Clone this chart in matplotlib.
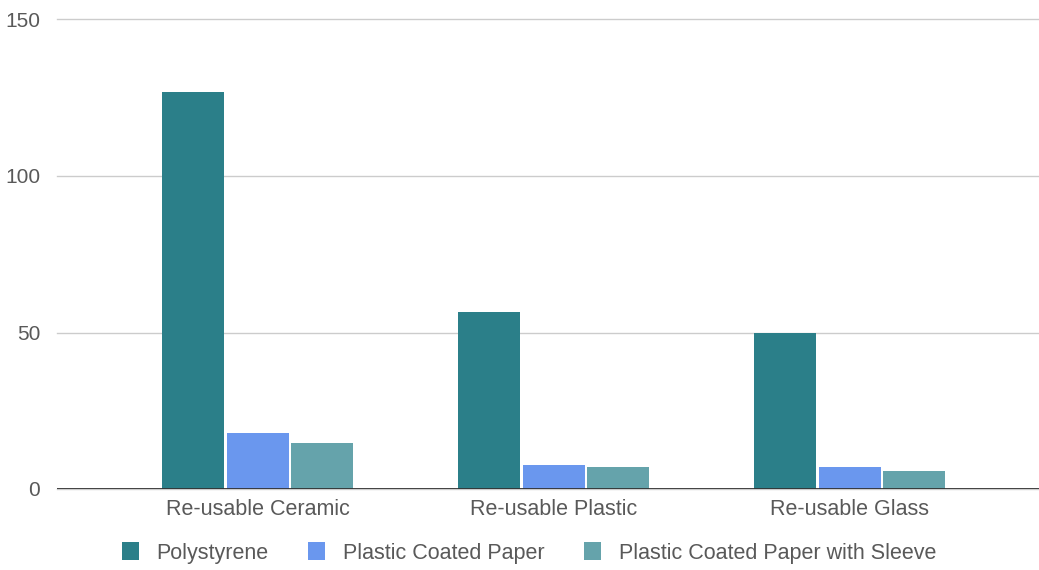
import numpy as np
import matplotlib
matplotlib.use("Agg")
import matplotlib.pyplot as plt
from matplotlib.patches import Patch

plt.rcParams['font.family'] = ['Liberation Sans', 'DejaVu Sans']

# Data
categories = ["Re-usable Ceramic", "Re-usable Plastic", "Re-usable Glass"]
series_names = ["Polystyrene", "Plastic Coated Paper", "Plastic Coated Paper with Sleeve"]
polystyrene = [126.7, 56.6, 49.7]
coated_paper = [17.9, 7.7, 7.0]
paper_sleeve = [14.7, 7.0, 5.8]
y_ticks = [0, 50, 100, 150]

colors = ["#2b7f89", "#6a97ee", "#65a3ab"]
text_color = "#595959"

fig = plt.figure(figsize=(10.39, 5.70), dpi=100)
ax = fig.add_axes([57 / 1039, 1 - 489 / 570, 1 - 57 / 1039, (489 - 19.5) / 570])

x = np.arange(len(categories))
width = 0.21
step = 0.218
for i, (vals, name, col) in enumerate(zip([polystyrene, coated_paper, paper_sleeve], series_names, colors)):
    ax.bar(x + (i - 1) * step, vals, width, color=col, label=name, zorder=3)

ax.set_xlim(-0.678, 2.64)
ax.set_ylim(0, 150)
ax.set_yticks(y_ticks)
ax.set_xticks(x)
ax.set_xticklabels(categories)
ax.grid(axis='y', color='#cccccc', linewidth=1, zorder=0)
for gl in ax.get_ygridlines():
    gl.set_clip_on(False)
ax.axhline(0, color='#333333', linewidth=1.3, zorder=4)
for s in ax.spines.values():
    s.set_visible(False)
ax.tick_params(axis='y', length=0, pad=12, labelsize=15, labelcolor=text_color)
ax.tick_params(axis='x', length=0, pad=7, labelsize=15.5, labelcolor=text_color)

handles = [Patch(facecolor=c, edgecolor='none') for c in colors]
fig.legend(handles, series_names, loc='center', bbox_to_anchor=(0.509, 1 - 553 / 570),
           ncol=3, frameon=False, fontsize=15.5, labelcolor=text_color,
           handlelength=0.8, handleheight=0.85, columnspacing=1.85, handletextpad=0.8)

fig.savefig("out.png", dpi=100)
